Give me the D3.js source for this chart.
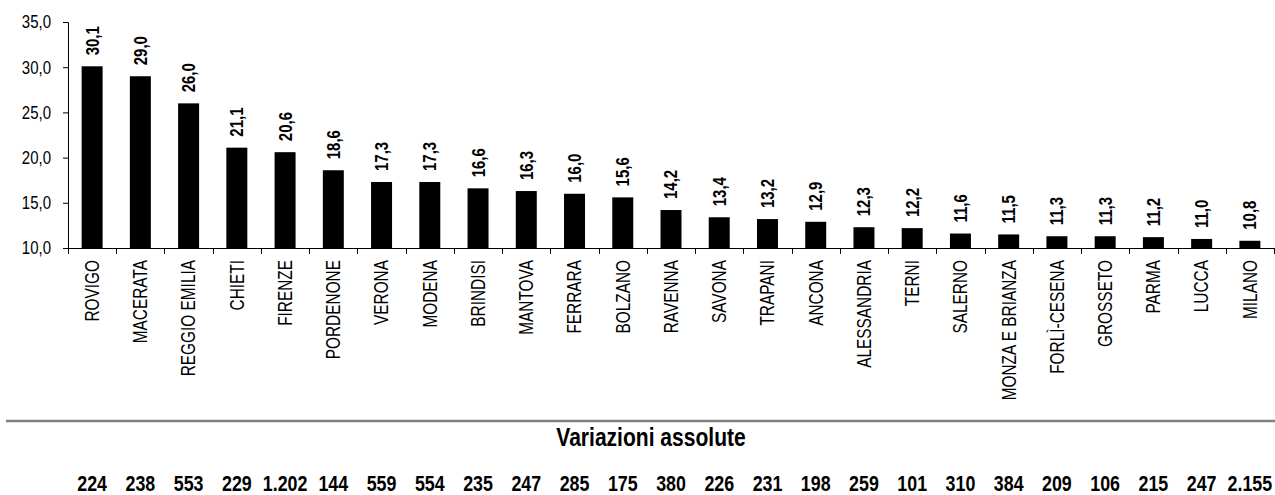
<!DOCTYPE html>
<html><head><meta charset="utf-8">
<script src="https://cdn.jsdelivr.net/npm/d3@7"></script>
<style>
body{margin:0;background:#fff;}
svg{display:block;}
text{font-family:"Liberation Sans",Arial,sans-serif;fill:#000;}
</style></head><body>
<svg id="c" width="1275" height="495"></svg>
<script>
const categories = ["ROVIGO","MACERATA","REGGIO EMILIA","CHIETI","FIRENZE","PORDENONE","VERONA","MODENA","BRINDISI","MANTOVA","FERRARA","BOLZANO","RAVENNA","SAVONA","TRAPANI","ANCONA","ALESSANDRIA","TERNI","SALERNO","MONZA E BRIANZA","FORLÌ-CESENA","GROSSETO","PARMA","LUCCA","MILANO"];
const values = [30.1,29.0,26.0,21.1,20.6,18.6,17.3,17.3,16.6,16.3,16.0,15.6,14.2,13.4,13.2,12.9,12.3,12.2,11.6,11.5,11.3,11.3,11.2,11.0,10.8];
const absVariations = [224,238,553,229,1202,144,559,554,235,247,285,175,380,226,231,198,259,101,310,384,209,106,215,247,2155];
const yTicks = [10,15,20,25,30,35];
const bottomTitle = "Variazioni assolute";

const it = d3.formatLocale({decimal:",", thousands:".", grouping:[3], currency:["€",""]});
const f1 = it.format(".1f");
const fInt = it.format(",d");
const N = 0.81; // narrow-font emulation

const svg = d3.select("#c");
const m = {left:68, right:1};
const x = d3.scaleBand().domain(categories).range([m.left, 1275 - m.right]).paddingInner(0.565).paddingOuter(0.2825);
const y = d3.scaleLinear().domain([10,35]).range([248, 22]);

// bars
svg.append("g").selectAll("rect").data(values).join("rect")
  .attr("x",(d,i)=>x(categories[i]))
  .attr("width",x.bandwidth())
  .attr("y",d=>y(d))
  .attr("height",d=>y(10)-y(d))
  .attr("fill","#000");

// y axis
const yAxis = svg.append("g").attr("transform",`translate(${m.left},0)`)
  .call(d3.axisLeft(y).tickValues(yTicks).tickFormat(f1).tickSize(5).tickPadding(12));
yAxis.select(".domain").attr("stroke","#000");
yAxis.selectAll("text").attr("font-size",18.5).attr("font-family",null)
  .attr("x",-17/N).attr("transform",`scale(${N},1)`);

// x axis with boundary ticks
const step = x.step();
const xa = svg.append("g");
xa.append("line").attr("x1",m.left).attr("x2",1275-m.right).attr("y1",y(10)+0.5).attr("y2",y(10)+0.5).attr("stroke","#000");
const bounds = d3.range(categories.length+1).map(i=>x.range()[0]+i*step);
xa.selectAll("line.t").data(bounds).join("line").attr("class","t")
  .attr("x1",d=>Math.round(d)+0.5).attr("x2",d=>Math.round(d)+0.5)
  .attr("y1",y(10)).attr("y2",y(10)+6).attr("stroke","#000");

// category labels
svg.append("g").selectAll("text").data(categories).join("text")
  .attr("transform",d=>`translate(${x(d)+x.bandwidth()/2},260) rotate(-90) scale(0.79,1)`)
  .attr("text-anchor","end").attr("dy","0.35em").attr("font-size",19.5)
  .text(d=>d);

// value labels
svg.append("g").selectAll("text").data(values).join("text")
  .attr("transform",(d,i)=>`translate(${x(categories[i])+x.bandwidth()/2},${y(d)-11}) rotate(-90) scale(${N},1)`)
  .attr("text-anchor","start").attr("dy","0.35em").attr("font-size",18.5).attr("font-weight","bold")
  .text(d=>f1(d));

// separator
svg.append("line").attr("x1",6).attr("x2",1275).attr("y1",421).attr("y2",421).attr("stroke","#808080").attr("stroke-width",2.5);

// title
svg.append("text").attr("transform",`translate(651,446) scale(${N},1)`).attr("text-anchor","middle")
  .attr("font-size",26).attr("font-weight","bold").text(bottomTitle);

// absolute variations row
svg.append("g").selectAll("text").data(absVariations).join("text")
  .attr("transform",(d,i)=>`translate(${x(categories[i])+x.bandwidth()/2},491) scale(${N},1)`)
  .attr("text-anchor","middle").attr("font-size",22).attr("font-weight","bold")
  .text(d=>fInt(d));
</script></body></html>
